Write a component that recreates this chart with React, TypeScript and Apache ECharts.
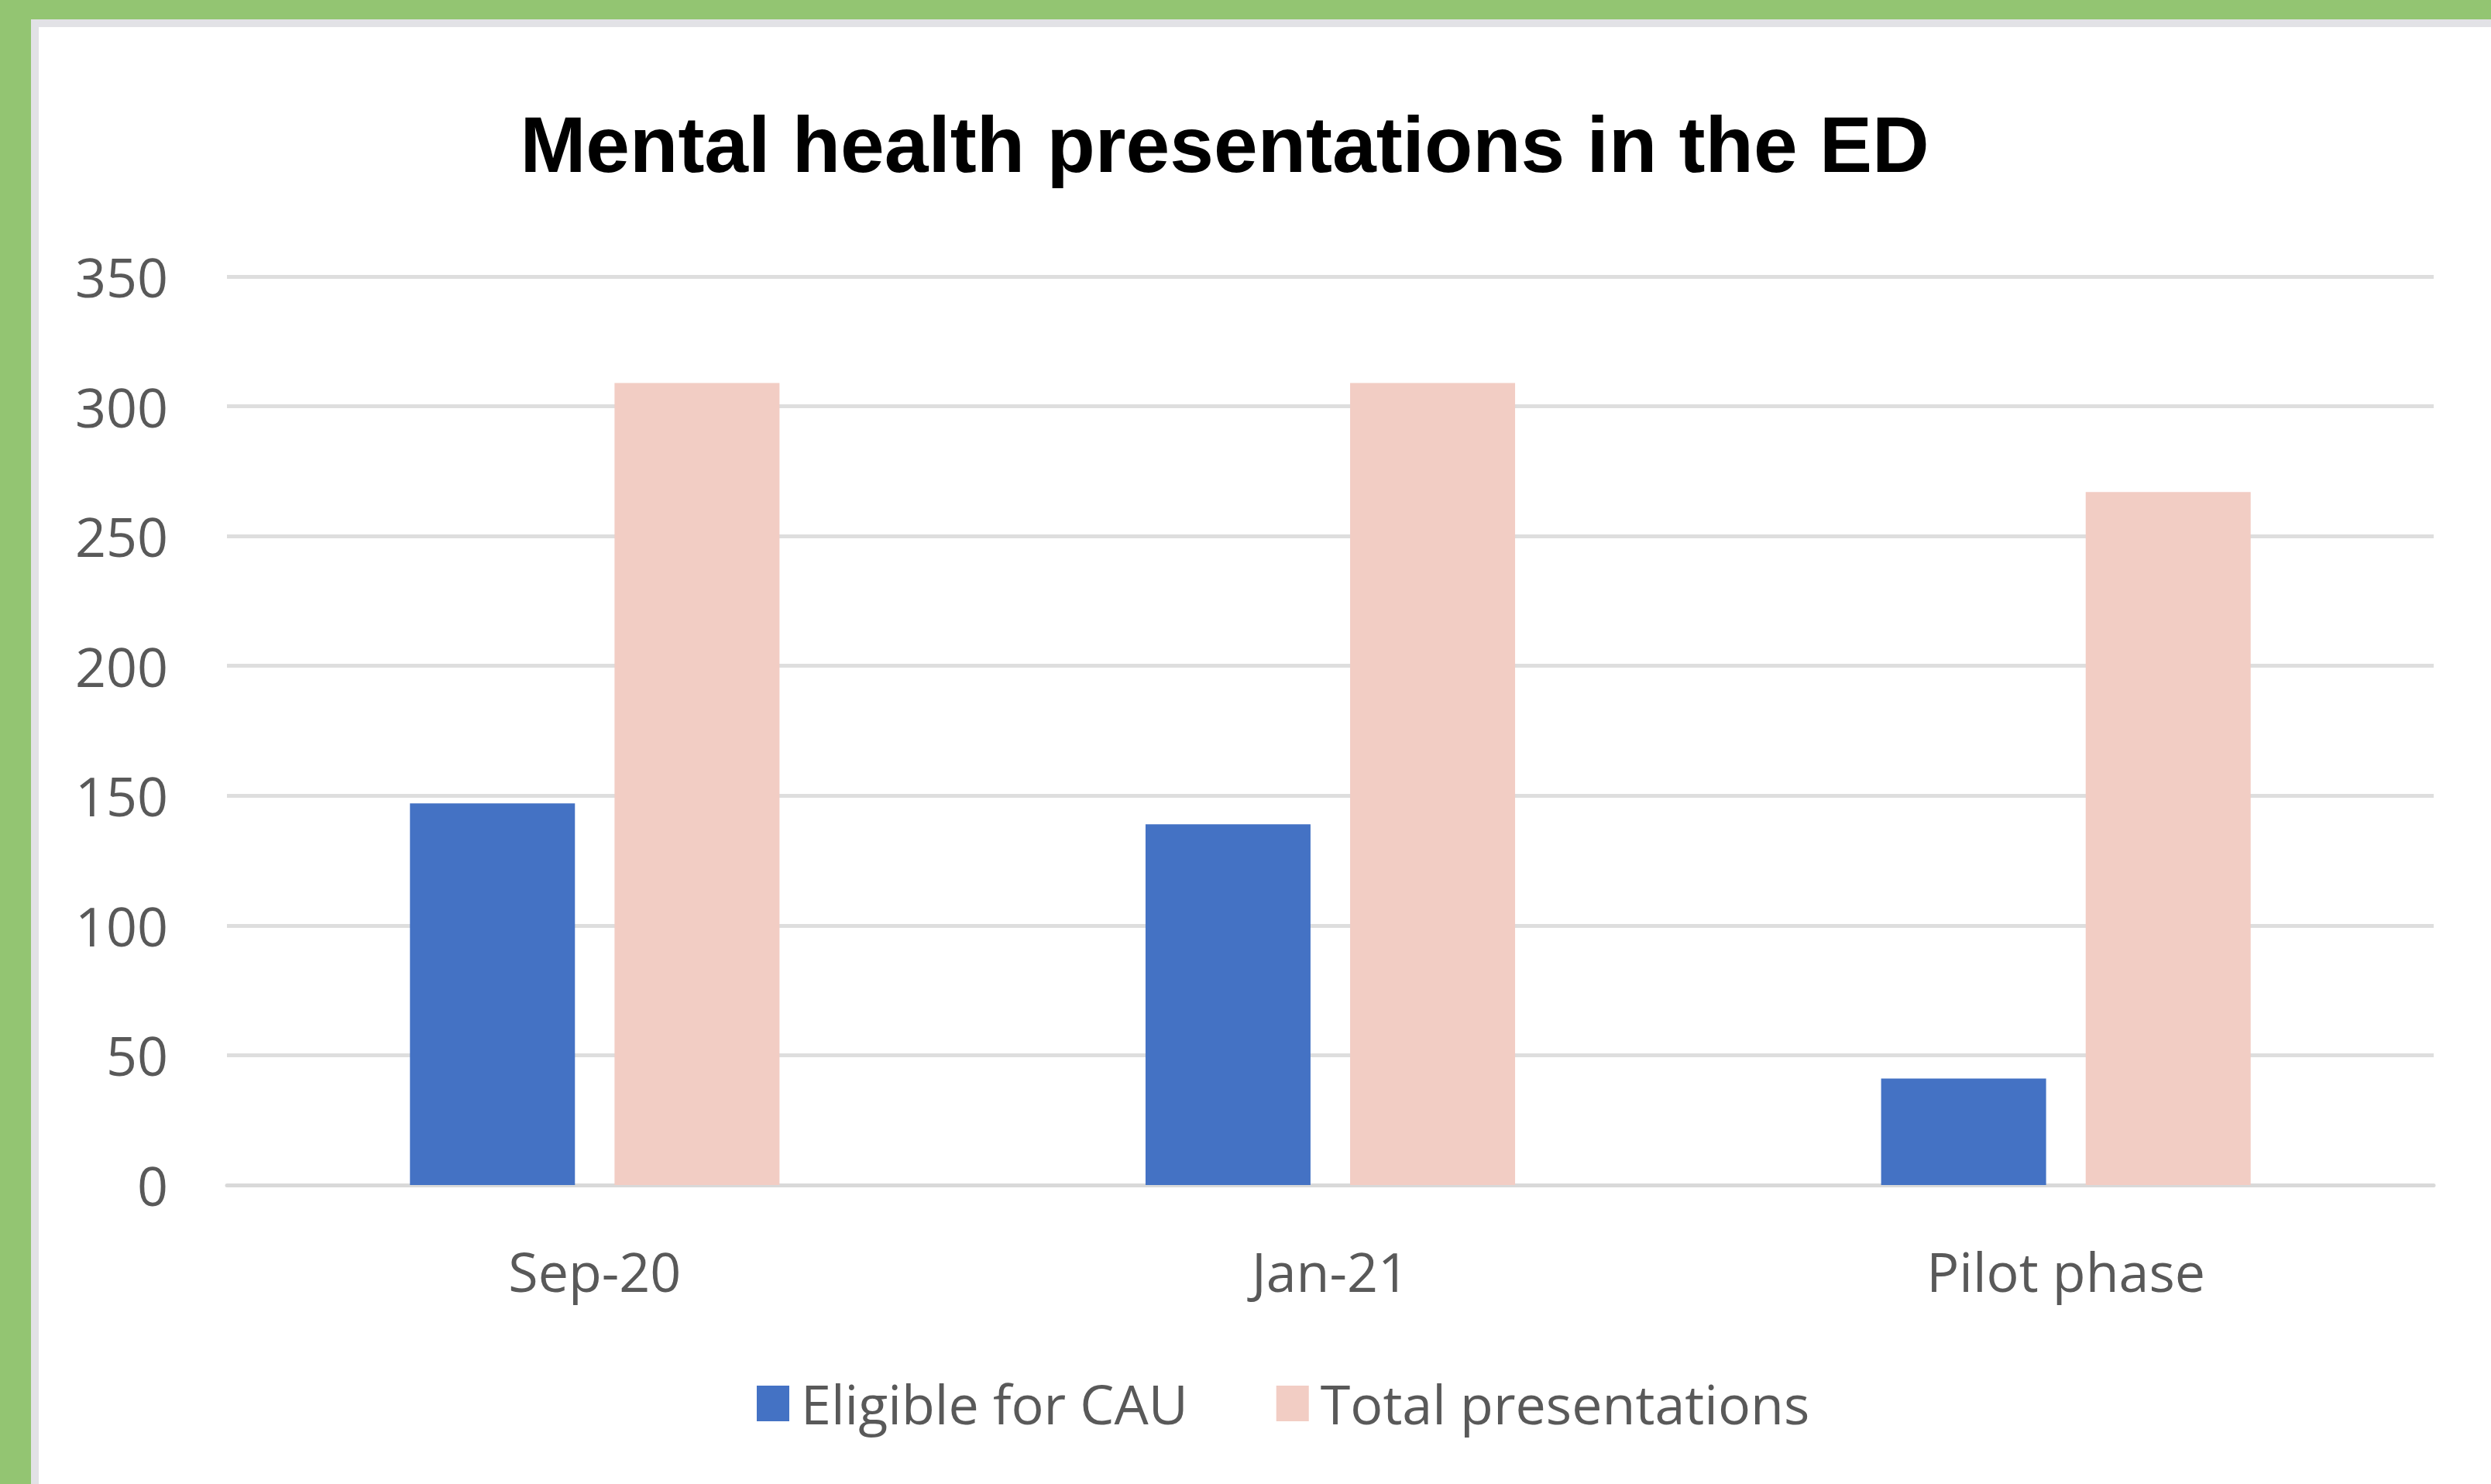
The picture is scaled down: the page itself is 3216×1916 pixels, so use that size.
import React, { useEffect, useRef } from "react";
import * as echarts from "echarts";

const categories = ["Sep-20", "Jan-21", "Pilot phase"];
const eligibleForCAU = [147, 139, 41];
const totalPresentations = [309, 309, 267];
const seriesNames = ["Eligible for CAU", "Total presentations"];
const titleText = "Mental health presentations in the ED";

export default function App() {
  const ref = useRef<HTMLDivElement>(null);
  useEffect(() => {
    if (!ref.current) return;
    const chart = echarts.init(ref.current, undefined, { renderer: "svg" });
    const labelFont = "'Open Sans', sans-serif";
    chart.setOption({
      animation: false,
      backgroundColor: "#ffffff",
      title: {
        text: titleText,
        left: 1581,
        top: 136,
        textAlign: "center",
        padding: 0,
        textStyle: {
          fontFamily: "'Liberation Sans', Arial, sans-serif",
          fontWeight: "bold",
          fontSize: 102,
          lineHeight: 102,
          color: "#000000",
        },
      },
      graphic: [
        { type: "rect", shape: { x: 0, y: 0, width: 3216, height: 25 }, style: { fill: "#93C572" }, z: 100 },
        { type: "rect", shape: { x: 0, y: 0, width: 40, height: 1916 }, style: { fill: "#93C572" }, z: 100 },
        { type: "rect", shape: { x: 40, y: 25, width: 3176, height: 10 }, style: { fill: "#E2E2E6" }, z: 99 },
        { type: "rect", shape: { x: 40, y: 25, width: 10, height: 1891 }, style: { fill: "#E2E2E6" }, z: 99 },
      ],
      legend: {
        data: seriesNames,
        left: 972,
        top: 1772,
        itemWidth: 42,
        itemHeight: 46,
        itemGap: 114,
        icon: "rect",
        textStyle: {
          fontFamily: labelFont,
          fontSize: 70,
          lineHeight: 46,
          color: "#595959",
          padding: [0, 0, 0, 10],
        },
      },
      grid: { left: 293, right: 74, top: 357, bottom: 386, containLabel: false },
      xAxis: {
        type: "category",
        data: categories,
        axisLine: { show: true, lineStyle: { color: "#D9D9D9", width: 5 } },
        axisTick: { show: false },
        axisLabel: {
          margin: 76,
          fontFamily: labelFont,
          fontSize: 70,
          lineHeight: 70,
          color: "#595959",
        },
      },
      yAxis: {
        type: "value",
        min: 0,
        max: 350,
        interval: 50,
        axisLine: { show: false },
        axisTick: { show: false },
        splitLine: { lineStyle: { color: "#DEDEDE", width: 5 } },
        axisLabel: {
          margin: 76,
          fontFamily: labelFont,
          fontSize: 70,
          lineHeight: 70,
          color: "#595959",
        },
      },
      series: [
        {
          name: seriesNames[0],
          type: "bar",
          data: eligibleForCAU,
          barWidth: 213,
          barGap: "24%",
          itemStyle: { color: "#4472C4" },
        },
        {
          name: seriesNames[1],
          type: "bar",
          data: totalPresentations,
          barWidth: 213,
          itemStyle: { color: "#F2CDC4" },
        },
      ],
    });
    return () => chart.dispose();
  }, []);
  return (
    <div
      ref={ref}
      style={{ position: "fixed", left: 0, top: 0, width: 3216, height: 1916 }}
    />
  );
}
